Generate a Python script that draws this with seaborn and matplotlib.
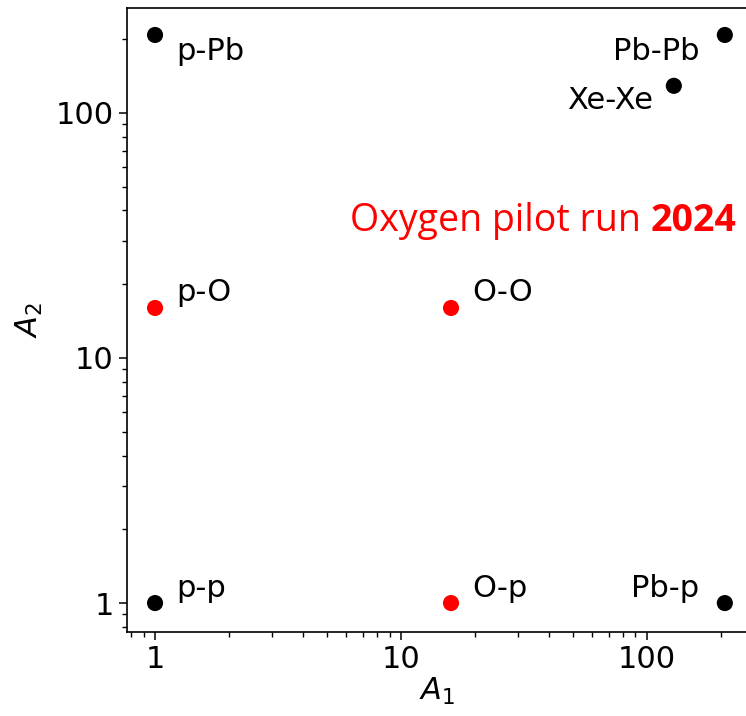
import matplotlib
matplotlib.use("Agg")
import matplotlib.pyplot as plt
import matplotlib.ticker as mticker
import seaborn as sns
import pandas as pd

# Collision systems: mass numbers of the two beams
systems = ["p-p", "p-O", "p-Pb", "O-p", "O-O", "Xe-Xe", "Pb-p", "Pb-Pb"]
a1 = [1, 1, 1, 16, 16, 129, 208, 208]
a2 = [1, 16, 208, 1, 16, 129, 1, 208]
run_group = ["other", "oxygen", "other", "oxygen", "oxygen", "other", "other", "other"]

tick_values = [1, 10, 100]
tick_labels = ["1", "10", "100"]

# label placement: pixel offsets (right, down) from each point, alignment
label_offsets = {
    "p-p": (21, -6, "left"),
    "p-O": (21, -7, "left"),
    "p-Pb": (21, 25, "left"),
    "O-p": (21, -6, "left"),
    "O-O": (21, -7, "left"),
    "Xe-Xe": (-21, 23, "right"),
    "Pb-p": (-26, -6, "right"),
    "Pb-Pb": (-25, 25, "right"),
}

df = pd.DataFrame({"A1": a1, "A2": a2, "system": systems, "group": run_group})

sns.set_style("ticks")
plt.rcParams["font.family"] = ["DejaVu Sans"]
plt.rcParams["mathtext.fontset"] = "dejavusans"
plt.rcParams["axes.labelcolor"] = "black"
plt.rcParams["text.color"] = "black"

W, H = 746, 716
fig = plt.figure(figsize=(W / 100, H / 100), dpi=100)
ax = fig.add_axes([127 / W, 84 / H, 620 / W, 624 / H])

sns.scatterplot(data=df, x="A1", y="A2", hue="group",
                palette={"other": "black", "oxygen": "red"},
                s=135, linewidth=0, legend=False, ax=ax, zorder=3)

ax.set_xscale("log")
ax.set_yscale("log")
ax.set_xlim(0.769, 256)
ax.set_ylim(0.762, 268)

for axis in (ax.xaxis, ax.yaxis):
    axis.set_major_locator(mticker.FixedLocator(tick_values))
    axis.set_major_formatter(mticker.FixedFormatter(tick_labels))
    axis.set_minor_locator(mticker.LogLocator(base=10, subs=range(2, 10), numticks=20))
    axis.set_minor_formatter(mticker.NullFormatter())

ax.tick_params(which="major", direction="out", length=6, width=1.1, labelsize=22,
               top=False, right=False, colors="black")
ax.tick_params(which="minor", direction="out", length=3.5, width=1.0,
               top=False, right=False, colors="black")
for side in ("left", "bottom", "top"):
    ax.spines[side].set_linewidth(1.2)
    ax.spines[side].set_color("black")
ax.spines["right"].set_visible(False)

ax.set_xlabel("$A_1$", fontsize=22, labelpad=1, color="black")
ax.set_ylabel("$A_2$", fontsize=22, labelpad=8, color="black")

for _, row in df.iterrows():
    dx, dy, ha = label_offsets[row["system"]]
    ax.annotate(row["system"], xy=(row["A1"], row["A2"]),
                xytext=(dx, -dy), textcoords="offset pixels",
                ha=ha, va="baseline", fontsize=22, color="black")

t1 = ax.text((350 - 127) / 620, (632 - 231) / 624, "Oxygen pilot run ",
             transform=ax.transAxes, ha="left", va="baseline",
             fontsize=27, color="red", family=["Open Sans", "DejaVu Sans"])
ax.annotate("2024", xy=(1, 0), xycoords=t1, ha="left", va="bottom",
            fontsize=27, color="red", fontweight="bold",
            family=["Open Sans", "DejaVu Sans"])

fig.savefig("out.png", dpi=100)
